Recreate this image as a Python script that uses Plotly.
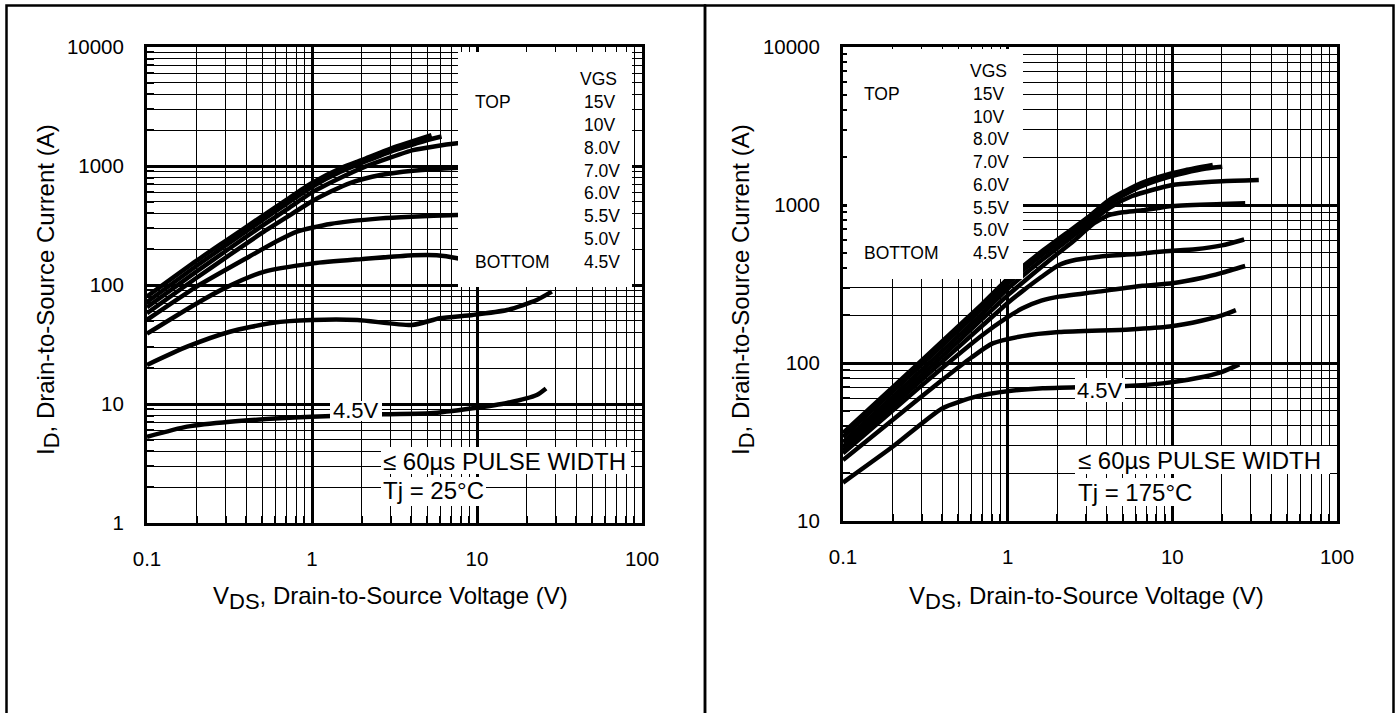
import plotly.graph_objects as go

# ---------------- data ----------------
# Tj = 25 C
vds_25_15v = [0.1, 0.2, 0.3, 0.5, 0.7, 1.0, 1.5, 2.0, 3.0, 4.0, 5.3]
id_25_15v = [80, 160, 235, 380, 520, 720, 960, 1120, 1400, 1600, 1820]
vds_25_10v = [0.1, 0.2, 0.3, 0.5, 0.7, 1.0, 1.5, 2.0, 3.0, 4.0, 5.0, 6.1]
id_25_10v = [72, 145, 215, 350, 480, 670, 900, 1060, 1320, 1500, 1650, 1770]
vds_25_8v = [0.1, 0.2, 0.3, 0.5, 0.7, 1.0, 1.5, 2.0, 3.0, 4.1, 5.5, 7.6, 8.0]
id_25_8v = [65, 130, 193, 315, 430, 600, 800, 960, 1180, 1360, 1460, 1550, 1560]
vds_25_7v = [0.1, 0.2, 0.3, 0.5, 0.7, 1.0, 1.3, 1.7, 2.6, 4.1, 7.6, 8.0]
id_25_7v = [58, 115, 170, 275, 370, 505, 610, 719, 840, 914, 968, 970]
vds_25_6v = [0.1, 0.2, 0.4, 0.6, 0.81, 1.29, 2.61, 4.0, 7.6, 8.0]
id_25_6v = [51, 97, 168, 230, 281, 326, 363, 375, 387, 388]
vds_25_55v = [0.1, 0.2, 0.3, 0.51, 1.02, 2.0, 4.13, 5.7, 7.6, 8.0]
id_25_55v = [39, 70, 95, 129, 152, 165, 178, 178, 168, 165]
vds_25_5v = [0.1, 0.175, 0.318, 0.58, 1.0, 1.88, 4.04, 5.95, 9.4, 15.2, 23, 28.4]
id_25_5v = [21.3, 30.3, 40.5, 48.2, 50.8, 50.8, 46.1, 52.5, 56, 61.6, 74.8, 87.9]
vds_25_45v = [0.1, 0.175, 0.318, 0.99, 2.7, 5.2, 9.4, 15.2, 23, 26.2]
id_25_45v = [5.3, 6.45, 7.1, 7.8, 8.2, 8.35, 9.2, 10.2, 11.9, 13.5]

# Tj = 175 C
vds_175_15v = [0.1, 0.2, 0.4, 0.7, 1.0, 1.23, 1.6, 2.27, 3.0, 4.15, 6.0, 8.4, 12, 17.6]
id_175_15v = [36, 70, 137, 236, 340, 407, 505, 662, 820, 1076, 1330, 1510, 1660, 1790]
vds_175_10v = [0.1, 0.2, 0.4, 0.7, 1.0, 1.23, 1.6, 2.27, 3.0, 4.15, 6.0, 8.4, 12, 16, 20.1]
id_175_10v = [34, 66, 129, 222, 318, 385, 480, 630, 785, 1020, 1270, 1450, 1600, 1700, 1746]
vds_175_8v = [0.1, 0.2, 0.4, 0.7, 1.0, 1.23, 1.6, 2.27, 3.0, 4.15, 5.7, 10, 15, 20, 33.5]
id_175_8v = [31.5, 61, 119, 205, 295, 355, 445, 590, 740, 960, 1140, 1340, 1390, 1415, 1439]
vds_175_7v = [0.1, 0.2, 0.4, 0.7, 1.0, 1.23, 1.6, 2.05, 2.6, 3.3, 4.15, 5.0, 6.57, 10, 20, 27.7]
id_175_7v = [29.5, 57, 110, 190, 268, 322, 405, 500, 610, 760, 865, 900, 925, 985, 1015, 1025]
vds_175_6v = [0.1, 0.2, 0.4, 0.7, 1.0, 1.23, 1.6, 2.05, 2.6, 3.6, 6.57, 9.1, 13.8, 20, 27.3]
id_175_6v = [28, 53.5, 102, 172, 240, 285, 350, 417, 450, 471, 494, 510, 525, 555, 605]
vds_175_55v = [0.1, 0.2, 0.4, 0.7, 1.0, 1.23, 1.6, 2.05, 3.45, 6.57, 10, 15, 20, 27.7]
id_175_55v = [26.8, 50, 93, 150, 195, 222, 248, 263, 282, 308, 320, 345, 372, 411]
vds_175_5v = [0.1, 0.2, 0.4, 0.6, 0.81, 1.23, 2.05, 5.5, 9.6, 15, 20, 24.3]
id_175_5v = [24.3, 43.6, 78, 108, 133, 148, 157, 163, 170, 185, 200, 216]
vds_175_45v = [0.1, 0.2, 0.4, 0.64, 1.02, 1.63, 3.0, 5.25, 8.7, 13.9, 20.1, 25.5]
id_175_45v = [17.5, 29.5, 51.6, 61.2, 66.5, 69.2, 70.5, 71.5, 74.3, 80, 88, 98]

vgs_labels = ["15V", "10V", "8.0V", "7.0V", "6.0V", "5.5V", "5.0V", "4.5V"]
x_tick_vals = [0.1, 1, 10, 100]
x_tick_text = ["0.1", "1", "10", "100"]
y_tick_vals_25 = [1, 10, 100, 1000, 10000]
y_tick_text_25 = ["1", "10", "100", "1000", "10000"]
y_tick_vals_175 = [10, 100, 1000, 10000]
y_tick_text_175 = ["10", "100", "1000", "10000"]

curves_25 = [(vds_25_15v, id_25_15v), (vds_25_10v, id_25_10v), (vds_25_8v, id_25_8v),
             (vds_25_7v, id_25_7v), (vds_25_6v, id_25_6v), (vds_25_55v, id_25_55v),
             (vds_25_5v, id_25_5v), (vds_25_45v, id_25_45v)]
curves_175 = [(vds_175_15v, id_175_15v), (vds_175_10v, id_175_10v), (vds_175_8v, id_175_8v),
              (vds_175_7v, id_175_7v), (vds_175_6v, id_175_6v), (vds_175_55v, id_175_55v),
              (vds_175_5v, id_175_5v), (vds_175_45v, id_175_45v)]

# ---------------- layout helpers ----------------
W, H = 1400, 713
FONT = "Liberation Sans, Arial, Helvetica, sans-serif"


def px(x):
    return x / W


def py(y):
    return 1 - y / H


def minor_vals(lo, hi):
    return [k * 10.0 ** e for e in range(lo, hi) for k in range(2, 10)]


fig = go.Figure()

for v, i in curves_25:
    fig.add_trace(go.Scatter(x=v, y=i, mode="lines", xaxis="x", yaxis="y",
                             line=dict(color="black", width=4.5, shape="spline", smoothing=0.6),
                             hoverinfo="skip", showlegend=False))
for v, i in curves_175:
    fig.add_trace(go.Scatter(x=v, y=i, mode="lines", xaxis="x2", yaxis="y2",
                             line=dict(color="black", width=4.5, shape="spline", smoothing=0.6),
                             hoverinfo="skip", showlegend=False))


def axis_style(tickvals, ticktext, minor, rng, domain, anchor, standoff):
    return dict(type="log", range=rng, domain=domain, anchor=anchor,
                tickvals=tickvals, ticktext=ticktext,
                showgrid=True, gridcolor="black", gridwidth=2.5,
                showline=True, mirror=True, linewidth=3, linecolor="black",
                ticks="inside", ticklen=9, tickwidth=2.5, tickcolor="black",
                tickfont=dict(family=FONT, size=20.5, color="black"),
                ticklabelstandoff=standoff,
                minor=dict(tickvals=minor, showgrid=True, gridcolor="black", gridwidth=1,
                           ticks="inside", ticklen=7, tickwidth=1.5, tickcolor="black"),
                zeroline=False, automargin=False, fixedrange=True)


fig.update_layout(
    width=W, height=H,
    margin=dict(l=0, r=0, t=0, b=0),
    paper_bgcolor="white", plot_bgcolor="white",
    font=dict(family=FONT, color="black"),
    xaxis=axis_style(x_tick_vals, x_tick_text, minor_vals(-1, 2), [-1, 2],
                     [px(147), px(642)], "y", 15),
    yaxis=axis_style(y_tick_vals_25, y_tick_text_25, minor_vals(0, 4), [0, 4],
                     [py(523), py(47)], "x", 16),
    xaxis2=axis_style(x_tick_vals, x_tick_text, minor_vals(-1, 2), [-1, 2],
                      [px(843), px(1337)], "y2", 15),
    yaxis2=axis_style(y_tick_vals_175, y_tick_text_175, minor_vals(1, 4), [1, 4],
                      [py(521), py(47)], "x2", 16),
)

shapes = []
# panel borders (open at the bottom of the picture)
shapes.append(dict(type="rect", xref="paper", yref="paper", x0=px(6.5), x1=px(705),
                   y0=py(740), y1=py(5.5), line=dict(color="black", width=2.5), layer="above"))
shapes.append(dict(type="rect", xref="paper", yref="paper", x0=px(705), x1=px(1393.5),
                   y0=py(740), y1=py(5.5), line=dict(color="black", width=2.5), layer="above"))


def white_box(x0, y0, x1, y1):
    shapes.append(dict(type="rect", xref="paper", yref="paper", x0=px(x0), x1=px(x1),
                       y0=py(y1), y1=py(y0), fillcolor="white", line=dict(width=0),
                       layer="above"))


# legend boxes
white_box(458, 52, 632, 287)
white_box(847, 49, 1023, 279)
# left panel text boxes
white_box(330, 401, 382, 421)
white_box(381, 447, 631, 474)
white_box(381, 477, 486, 506)
# right panel text boxes
white_box(1075, 378, 1125, 402)
white_box(1075, 446, 1330, 474)
white_box(1075, 478, 1193, 506)
fig.update_layout(shapes=shapes)

ann = []


def text(x, y, s, size, xanchor="left", angle=0):
    ann.append(dict(xref="paper", yref="paper", x=px(x), y=py(y), text=s, showarrow=False,
                    xanchor=xanchor, yanchor="middle", textangle=angle,
                    font=dict(family=FONT, size=size, color="black")))


# legends
def legend(x_label, x_val, x_vgs, y_vgs, y_first, y_last):
    text(x_vgs, y_vgs, "VGS", 17.5, "right")
    step = (y_last - y_first) / (len(vgs_labels) - 1)
    for k, lab in enumerate(vgs_labels):
        text(x_val, y_first + k * step, lab, 17.5)
    text(x_label, y_first, "TOP", 17.5)
    text(x_label, y_last, "BOTTOM", 17.5)


legend(473, 582, 619, 79, 102, 262)
legend(862, 971, 1009, 71, 94, 253)

# curve labels, conditions
text(356, 411, "4.5V", 22, "center")
text(1100, 390, "4.5V", 22, "center")
text(381, 461, "≤ 60µs PULSE WIDTH", 24)
text(381, 491, "Tj = 25°C", 24)
text(1076, 460, "≤ 60µs PULSE WIDTH", 24)
text(1076, 492, "Tj = 175°C", 24)

# axis titles (subscripts nearly full size, as in the reference)
xt = 'V<sub><span style="font-size:22px">DS</span></sub>, Drain-to-Source Voltage (V)'
yt = 'I<sub><span style="font-size:22px">D</span></sub>, Drain-to-Source Current (A)'
text(390, 598, xt, 24, "center")
text(1086, 598, xt, 24, "center")
text(48, 290, yt, 24, "center", -90)
text(743, 290, yt, 24, "center", -90)

fig.update_layout(annotations=ann)

fig.write_html(
    "out.html",
    config={"displayModeBar": False},
    post_script="document.body.style.margin='0px'; document.body.style.overflow='hidden';",
)
